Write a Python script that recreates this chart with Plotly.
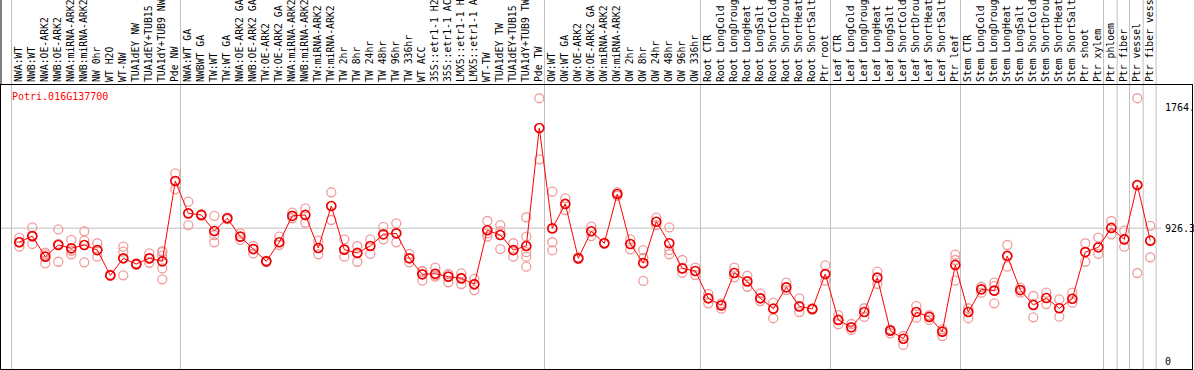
import plotly.graph_objects as go

categories = [
    "NWA:WT", "NWB:WT", "NWA:OE-ARK2", "NWB:OE-ARK2", "NWA:miRNA-ARK2", "NWB:miRNA-ARK2",
    "NW 0hr", "WT H2O", "WT-NW", "TUA1dEY NW", "TUA1dEY+TUB15 NW", "TUA1dY+TUB9 NW", "Pde NW",
    "NWA:WT GA", "NWBWT GA", "TW:WT", "TW:WT GA", "NWA:OE-ARK2 GA", "NWB:OE-ARK2 GA",
    "TW:OE-ARK2", "TW:OE-ARK2 GA", "NWA:miRNA-ARK2 GA", "NWB:miRNA-ARK2 GA", "TW:miRNA-ARK2",
    "TW:miRNA-ARK2 GA", "TW 2hr", "TW 8hr", "TW 24hr", "TW 48hr", "TW 96hr", "TW 336hr", "WT ACC",
    "35S::etr1-1 H2O", "35S::etr1-1 ACC", "LMX5::etr1-1 H2O", "LMX5::etr1-1 ACC", "WT-TW",
    "TUA1dEY TW", "TUA1dEY+TUB15 TW", "TUA1dY+TUB9 TW", "Pde TW",
    "OW:WT", "OW:WT GA", "OW:OE-ARK2", "OW:OE-ARK2 GA", "OW:miRNA-ARK2", "OW:miRNA-ARK2 GA",
    "OW 2hr", "OW 8hr", "OW 24hr", "OW 48hr", "OW 96hr", "OW 336hr",
    "Root CTR", "Root LongCold", "Root LongDrought", "Root LongHeat", "Root LongSalt",
    "Root ShortCold", "Root ShortDrought", "Root ShortHeat", "Root ShortSalt", "Ptr root",
    "Leaf CTR", "Leaf LongCold", "Leaf LongDrought", "Leaf LongHeat", "Leaf LongSalt",
    "Leaf ShortCold", "Leaf ShortDrought", "Leaf ShortHeat", "Leaf ShortSalt", "Ptr leaf",
    "Stem CTR", "Stem LongCold", "Stem LongDrought", "Stem LongHeat", "Stem LongSalt",
    "Stem ShortCold", "Stem ShortDrought", "Stem ShortHeat", "Stem ShortSalt", "Ptr shoot",
    "Ptr xylem", "Ptr phloem", "Ptr fiber", "Ptr vessel", "Ptr fiber vessel",
]

means = [
    829, 872, 729, 810, 787, 810, 775, 600, 718, 678, 718, 697, 1253,
    1029, 1018, 907, 995, 868, 782, 697, 829, 1012, 1018, 789, 1080, 778, 755, 803, 884, 891,
    718, 607, 611, 591, 579, 538, 912, 879, 775, 803, 1620,
    925, 1094, 718, 905, 822, 1163, 817, 685, 971, 822, 648, 630,
    441, 392, 616, 558, 441, 369, 517, 385, 367, 609,
    291, 240, 346, 584, 217, 161, 346, 312, 210, 672,
    346, 503, 494, 734, 498, 395, 443, 372, 438, 761, 794,
    928, 849, 1225, 840,
]

replicates = [
    [861, 798, 829], [932, 817, 868], [757, 683, 747], [918, 694, 818], [845, 746, 770],
    [905, 840, 690], [822, 729, 775], [596, 604], [798, 764, 600], [672, 684],
    [752, 687, 716], [768, 736, 648, 572, 760], [1306, 1196],
    [1110, 948], [1022, 1014], [1011, 829, 879], [1000, 990], [891, 845], [803, 752],
    [692, 702], [868, 810], [1034, 995], [1064, 964], [840, 746], [1175, 983], [849, 729],
    [803, 694], [849, 748], [935, 849], [960, 829], [748, 690], [625, 563, 630],
    [653, 591, 600], [607, 552, 610], [614, 540, 583], [575, 498, 541], [976, 868, 890],
    [948, 782, 905], [822, 729, 775], [1002, 868, 729, 660, 760], [1826, 1403],
    [1179, 829, 773], [1133, 1052], [712, 724], [937, 872], [826, 818], [1175, 1150],
    [849, 780], [775, 561, 720], [999, 948], [932, 775, 746], [706, 618], [653, 602],
    [471, 406], [406, 369], [653, 586], [597, 521], [475, 422], [411, 303], [549, 498],
    [441, 346], [372, 362], [669, 563],
    [325, 261], [263, 222], [372, 312], [625, 540], [226, 199], [180, 118], [388, 307],
    [325, 291], [226, 180], [743, 706, 563],
    [372, 303], [521, 480], [549, 406, 525], [810, 660], [480, 515], [457, 309], [480, 401],
    [434, 314], [480, 411], [822, 694], [861, 748],
    [976, 884], [909, 798], [1826, 616], [942, 725],
]

group_breaks = [-0.6, 12.4, 40.4, 52.4, 62.4, 72.4, 83.4, 84.45, 85.4, 86.45, 87.45]
ytick_vals = [0, 926.3, 1764]
ytick_text = ["0", "926.3", "1764."]
gridline_vals = [926.3]
title_text = "Potri.016G137700"
label_chars = 14  # the chart shows only the first 14 characters of each label

FONT = "DejaVu Sans Mono, monospace"

idx = list(range(len(categories)))
tick_labels = [c[:label_chars].rstrip() for c in categories]
rx, ry = [], []
for i, reps in enumerate(replicates):
    for v in reps:
        rx.append(i)
        ry.append(v)

fig = go.Figure()
fig.add_trace(go.Scatter(
    x=rx, y=ry, mode="markers",
    marker=dict(symbol="circle-open", size=9, color="#f09c9c",
                line=dict(width=1.3, color="#f09c9c")),
    hoverinfo="skip",
))
fig.add_trace(go.Scatter(
    x=idx, y=means, mode="lines+markers",
    line=dict(color="#ff0000", width=1),
    marker=dict(symbol="circle-open", size=9, color="#ee0000",
                line=dict(width=1.7, color="#ee0000")),
))

shapes = []
for b in group_breaks:
    shapes.append(dict(type="line", xref="x", yref="paper", x0=b, x1=b, y0=0, y1=1.31,
                       line=dict(color="#c0c0c0", width=1), layer="below"))
for g in gridline_vals:
    shapes.append(dict(type="line", xref="paper", yref="y", x0=0, x1=0.974, y0=g, y1=g,
                       line=dict(color="#c0c0c0", width=1), layer="below"))
# left border through the label band
shapes.append(dict(type="line", xref="paper", yref="paper", x0=0, x1=0, y0=1, y1=1.31,
                   line=dict(color="black", width=1)))

annotations = [dict(text=title_text, xref="paper", yref="paper", x=0.0076, y=0.958,
                    xanchor="left", yanchor="middle", showarrow=False,
                    font=dict(family=FONT, size=10, color="#ff0000"))]
for v, t in zip(ytick_vals, ytick_text):
    annotations.append(dict(text=t, xref="paper", yref="y", x=0.9757, y=v,
                            xanchor="left", yanchor="middle", showarrow=False,
                            font=dict(family=FONT, size=10, color="black")))

fig.update_layout(
    width=1194, height=370,
    margin=dict(l=1, r=2, t=85, b=1, autoexpand=False),
    paper_bgcolor="white", plot_bgcolor="white",
    showlegend=False,
    xaxis=dict(range=[-1.4077, 90.208], side="top", tickmode="array", tickvals=idx,
               ticktext=tick_labels, tickangle=-90, automargin=False,
               tickfont=dict(family=FONT, size=9.8, color="black"),
               showgrid=False, zeroline=False, showline=True, mirror=True,
               linecolor="black", linewidth=1, ticks=""),
    yaxis=dict(range=[-48.5, 1917.6], showticklabels=False, showgrid=False, zeroline=False,
               automargin=False,
               showline=True, mirror=True, linecolor="black", linewidth=1, ticks=""),
    shapes=shapes,
    annotations=annotations,
)

fig.write_html("out.html", config={"displayModeBar": False},
               post_script="document.body.style.margin='0px';document.body.style.overflow='hidden';")
